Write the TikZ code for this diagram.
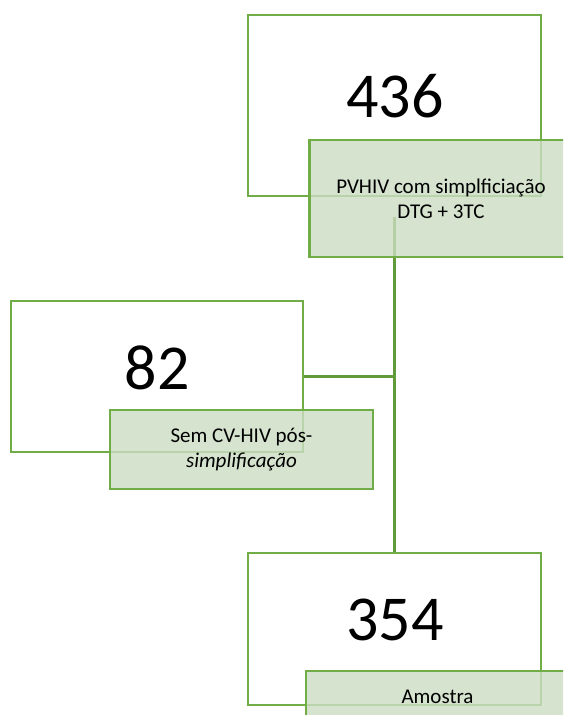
\documentclass[tikz,border=0pt]{standalone}
\usepackage{fontspec}
\setmainfont{Carlito}
\definecolor{gborder}{HTML}{70AD47}
\definecolor{gfill}{HTML}{CCDDC3}
\definecolor{gline}{HTML}{609A3A}
\tikzset{
  numbox/.style={draw=gborder, line width=2.8pt, fill=white, inner sep=0pt},
  numtext/.style={inner sep=0pt, font=\fontsize{64}{72}\selectfont},
  labbox/.style={draw=gborder, line width=2.8pt, fill=gfill, fill opacity=0.8, text opacity=1, inner sep=0pt, align=center, font=\fontsize{21}{25}\selectfont},
  conn/.style={draw=gline, line width=2.8pt}
}
\begin{document}
\begin{tikzpicture}[x=1pt,y=-1pt]
\useasboundingbox[clip] (0,0) rectangle (563,715);
\fill[white] (0,0) rectangle (563,715);
% number boxes
\node[numbox, minimum width=293pt, minimum height=181pt] (box1) at (394.5,105.5) {};
\node[numbox, minimum width=292pt, minimum height=151pt] (box2) at (157,376.5) {};
\node[numbox, minimum width=293pt, minimum height=152pt] (box3) at (394.5,629) {};
\node[numtext] (n1) at (395,96) {436};
\node[numtext] (n2) at (157,368) {82};
\node[numtext] (n3) at (395,620) {354};
% connectors
\draw[conn] (box3.north) -- (box3.north |- 0,217);
\draw[conn] (box2.east) -- (box2.east -| box3.north);
% label boxes
\node[labbox, minimum width=263pt, minimum height=117pt] (lab1) at (441,198.5) {PVHIV com simplficiação\\DTG + 3TC};
\node[labbox, minimum width=263pt, minimum height=79pt] (lab2) at (241.5,449.5) {Sem CV-HIV pós-\\\textit{simplificação}};
\node[labbox, minimum width=263pt, minimum height=52pt] (lab3) at (437.5,697) {Amostra};
\end{tikzpicture}
\end{document}
